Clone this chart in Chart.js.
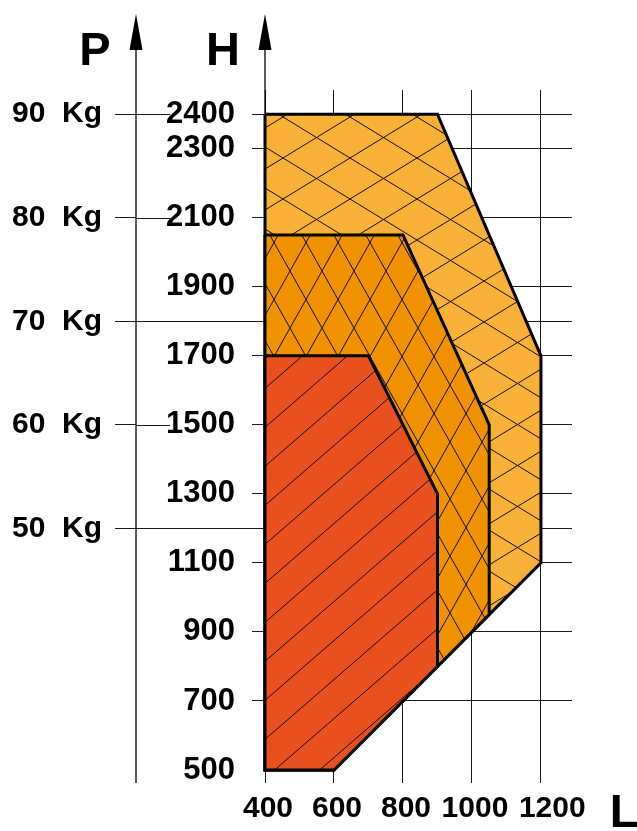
<!DOCTYPE html>
<html>
<head>
<meta charset="utf-8">
<script src="https://cdn.jsdelivr.net/npm/chart.js@4.4.1/dist/chart.umd.min.js"></script>
<style>
  html, body { margin: 0; padding: 0; background: #fff; }
</style>
</head>
<body>
<canvas id="chart" width="637" height="831"></canvas>
<script>
// values
let lTicks = [400, 600, 800, 1000, 1200];
let hTicks = [500, 700, 900, 1100, 1300, 1500, 1700, 1900, 2100, 2300, 2400];
let pTicks = [50, 60, 70, 80, 90];

// zones, corner by corner (L, H)
let redL = [400, 700, 900, 900, 600, 400, 400];
let redH = [1700, 1700, 1300, 800, 500, 500, 1700];
let midL = [400, 800, 1050, 1050, 900, 600, 400, 400];
let midH = [2050, 2050, 1500, 950, 800, 500, 500, 2050];
let lightL = [400, 900, 1200, 1200, 600, 400, 400];
let lightH = [2400, 2400, 1700, 1100, 500, 500, 2400];

// P (Kg) against H: P = H / 30 + 10
let pFromH = (h) => h / 30 + 10;

let lMin = 400, lMax = 1290;
let hMin = 500, hMax = 2470;

let fontFamily = "'Liberation Sans', Arial, sans-serif";
let gridColor = "#1a1a1a";

function toPoints(xs, ys) {
  return xs.map((x, i) => ({ x: x, y: ys[i] }));
}

function hatch(color, w, h, lines, dx, dy) {
  let c = document.createElement("canvas");
  c.width = w;
  c.height = h;
  let g = c.getContext("2d");
  g.fillStyle = color;
  g.fillRect(0, 0, w, h);
  g.strokeStyle = "#111";
  g.lineWidth = 1;
  g.beginPath();
  for (let ox of [-w, 0, w]) {
    for (let oy of [-h, 0, h]) {
      lines.forEach((l) => {
        g.moveTo(l[0] * w + ox, l[1] * h + oy);
        g.lineTo(l[2] * w + ox, l[3] * h + oy);
      });
    }
  }
  g.stroke();
  let p = g.createPattern(c, "repeat");
  p.setTransform(new DOMMatrix().translate(dx, dy));
  return p;
}

let cross = [[0, 0, 1, 1], [0, 1, 1, 0]];
let single = [[0, 1, 1, 0]];

let lightFill = hatch("#f8b036", 67, 41, cross, 15, 35);
let midFill = hatch("#f09200", 32, 57, cross, 2, 43);
let redFill = hatch("#e8511e", 45, 39, single, 0, -6);

function fixTicks(list) {
  return (scale) => {
    scale.ticks = list.map((v) => ({ value: v }));
  };
}

let axesDecor = {
  id: "axesDecor",
  afterDraw(chart) {
    let c = chart.ctx;
    let area = chart.chartArea;
    let pScale = chart.scales.p;
    let hScale = chart.scales.y;
    let tipY = 14, baseY = 50;

    c.save();
    c.strokeStyle = "#000";
    c.fillStyle = "#000";
    c.lineWidth = 1.3;

    // axis lines with arrows
    [[pScale.right, area.bottom + 13], [hScale.right, area.bottom]].forEach((a) => {
      let x = a[0];
      c.beginPath();
      c.moveTo(x, baseY);
      c.lineTo(x, a[1]);
      c.stroke();
      c.beginPath();
      c.moveTo(x, tipY);
      c.lineTo(x - 6.5, baseY);
      c.lineTo(x + 6.5, baseY);
      c.closePath();
      c.fill();
    });

    // P tick lines carried across the H label column
    c.font = "bold 31px " + fontFamily;
    let labelLeft = hScale.right - 13 - 17 - c.measureText("2400").width;
    c.strokeStyle = gridColor;
    c.lineWidth = 1;
    pTicks.forEach((v) => {
      let y = Math.round(pScale.getPixelForValue(v)) + 0.5;
      let h = (v - 10) * 30;
      let end = hTicks.includes(h) ? labelLeft + 4 : area.left;
      c.beginPath();
      c.moveTo(pScale.right, y);
      c.lineTo(end, y);
      c.stroke();
    });

    // axis names
    c.font = "bold 47px " + fontFamily;
    c.textAlign = "center";
    c.textBaseline = "alphabetic";
    c.fillText("P", pScale.right - 41, 65);
    c.fillText("H", hScale.right - 42, 65);
    c.fillText("L", area.right + 52, 827);
    c.restore();
  },
};

let ctx = document.getElementById("chart").getContext("2d");
let zones = new Chart(ctx, {
  type: "scatter",
  data: {
    datasets: [
      {
        data: toPoints(redL, redH),
        backgroundColor: redFill,
      },
      {
        data: toPoints(midL, midH),
        backgroundColor: midFill,
      },
      {
        data: toPoints(lightL, lightH),
        backgroundColor: lightFill,
      },
    ].map((d) => ({
      ...d,
      showLine: true,
      fill: "shape",
      clip: 4,
      borderColor: "#000",
      borderWidth: 3,
      borderJoinStyle: "miter",
      pointRadius: 0,
      tension: 0,
    })),
  },
  options: {
    responsive: false,
    animation: false,
    layout: {
      padding: { top: 90, right: 65, left: 0, bottom: 0 },
    },
    plugins: {
      legend: { display: false },
      tooltip: { enabled: false },
    },
    scales: {
      x: {
        type: "linear",
        position: "bottom",
        min: lMin,
        max: lMax,
        z: 1,
        afterBuildTicks: fixTicks(lTicks),
        afterFit: (scale) => {
          scale.height = 61;
        },
        border: { display: false },
        grid: {
          color: gridColor,
          lineWidth: 1,
          tickLength: 13,
        },
        ticks: {
          color: "#000",
          font: { family: fontFamily, size: 30, weight: "bold" },
          padding: 8,
          labelOffset: 3,
          maxRotation: 0,
          minRotation: 0,
          autoSkip: false,
          // last label sits a little to the right, clear of 1000
          callback: (v) => (v === lTicks[lTicks.length - 1] ? "  " + v : String(v)),
        },
      },
      y: {
        type: "linear",
        position: "left",
        weight: 0,
        min: hMin,
        max: hMax,
        z: 1,
        afterBuildTicks: fixTicks(hTicks),
        afterFit: (scale) => {
          scale.width = 129;
        },
        border: { display: false },
        grid: {
          color: (c) => (c.tick && c.tick.value === 500 ? "rgba(0,0,0,0)" : gridColor),
          lineWidth: 1,
          tickLength: 13,
        },
        ticks: {
          color: "#000",
          font: { family: fontFamily, size: 31, weight: "bold" },
          padding: 17,
          autoSkip: false,
          callback: (v) => String(v),
        },
      },
      p: {
        type: "linear",
        position: "left",
        weight: 1,
        min: pFromH(hMin),
        max: pFromH(hMax),
        z: 1,
        afterBuildTicks: fixTicks(pTicks),
        afterFit: (scale) => {
          scale.width = 136;
        },
        border: { display: false },
        grid: {
          color: gridColor,
          lineWidth: 1,
          tickLength: 21,
        },
        ticks: {
          color: "#000",
          font: { family: fontFamily, size: 30, weight: "bold" },
          padding: 13,
          autoSkip: false,
          callback: (v) => v + "  Kg",
        },
      },
    },
  },
  plugins: [axesDecor],
});
</script>
</body>
</html>
